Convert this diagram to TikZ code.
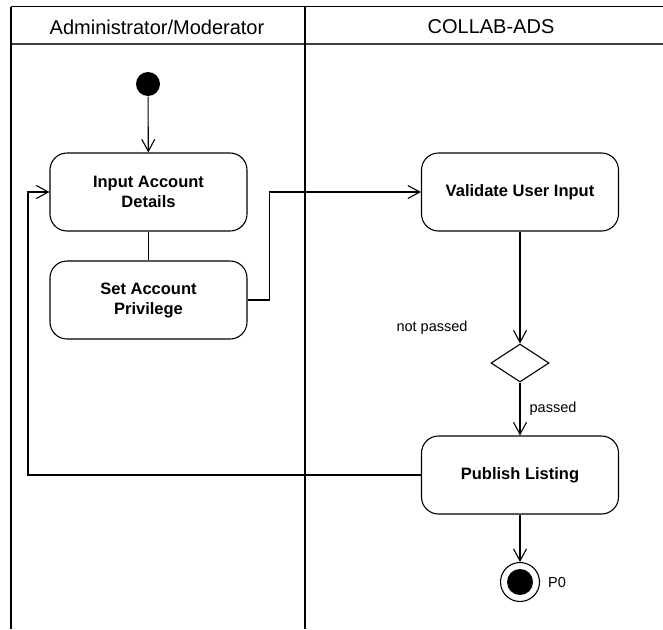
\documentclass[tikz,border=0pt]{standalone}
\usepackage{fontspec}
\setmainfont{Liberation Sans}
\usetikzlibrary{arrows.meta,shapes.geometric}
\begin{document}
\begin{tikzpicture}[x=1pt,y=-1pt,line width=1.1pt,
    action/.style={draw,rounded corners=17pt,minimum width=197pt,minimum height=78pt,
      align=center,font=\fontsize{16.5}{20}\selectfont\bfseries},
    decision/.style={draw,diamond,minimum width=58pt,minimum height=38pt,inner sep=0pt},
    flow/.style={-{Straight Barb[length=12pt,width=13pt]}},
    lanetitle/.style={font=\fontsize{20}{22}\selectfont},
    guard/.style={font=\fontsize{14.5}{16}\selectfont}]
      \useasboundingbox (0,0) rectangle (663,629);
      % swimlanes
      \draw[line width=1.3pt] (11,6.5) -- (663,6.5);
      \draw[line width=1.3pt,black!75] (11,44) -- (663,44);
      \draw[line width=1.3pt] (11,6.5) -- (11,629);
      \draw[line width=1.3pt] (305,6.5) -- (305,629);
      \node[lanetitle] (adminlane) at (157,27) {Administrator/Moderator};
      \node[lanetitle] (systemlane) at (491,27) {COLLAB-ADS};
      % activity nodes
      \node[fill,circle,minimum size=24pt,inner sep=0pt] (start) at (148,84) {};
      \node[action] (input) at (148.5,192) {Input Account\\Details};
      \node[action] (privilege) at (148.5,300) {Set Account\\Privilege};
      \node[action] (validate) at (520,192) {Validate User Input};
      \node[decision] (check) at (520,363) {};
      \node[action] (publish) at (520,475) {Publish Listing};
      \node[draw,circle,minimum size=39pt,inner sep=0pt] (finish) at (520,582) {};
      \node[fill,circle,minimum size=26pt,inner sep=0pt] (finishdot) at (finish) {};
      \node[guard] (notpassed) at (432,328) {not passed};
      \node[guard] (passed) at (553,409) {passed};
      \node[guard] (endlabel) at (557,582) {P0};
      \coordinate (loopback) at (28,475);
      \begin{scope}[flow]
        \draw (start) to (input);
        \draw[-] (input) to (privilege);
        \draw (privilege.east) -- ++(22,0) |- (validate.west);
        \draw (validate) to (check);
        \draw (check) to (publish);
        \draw (publish.west) -- (loopback) |- (input.west);
        \draw (publish) to (finish);
      \end{scope}
    \end{tikzpicture}
\end{document}
